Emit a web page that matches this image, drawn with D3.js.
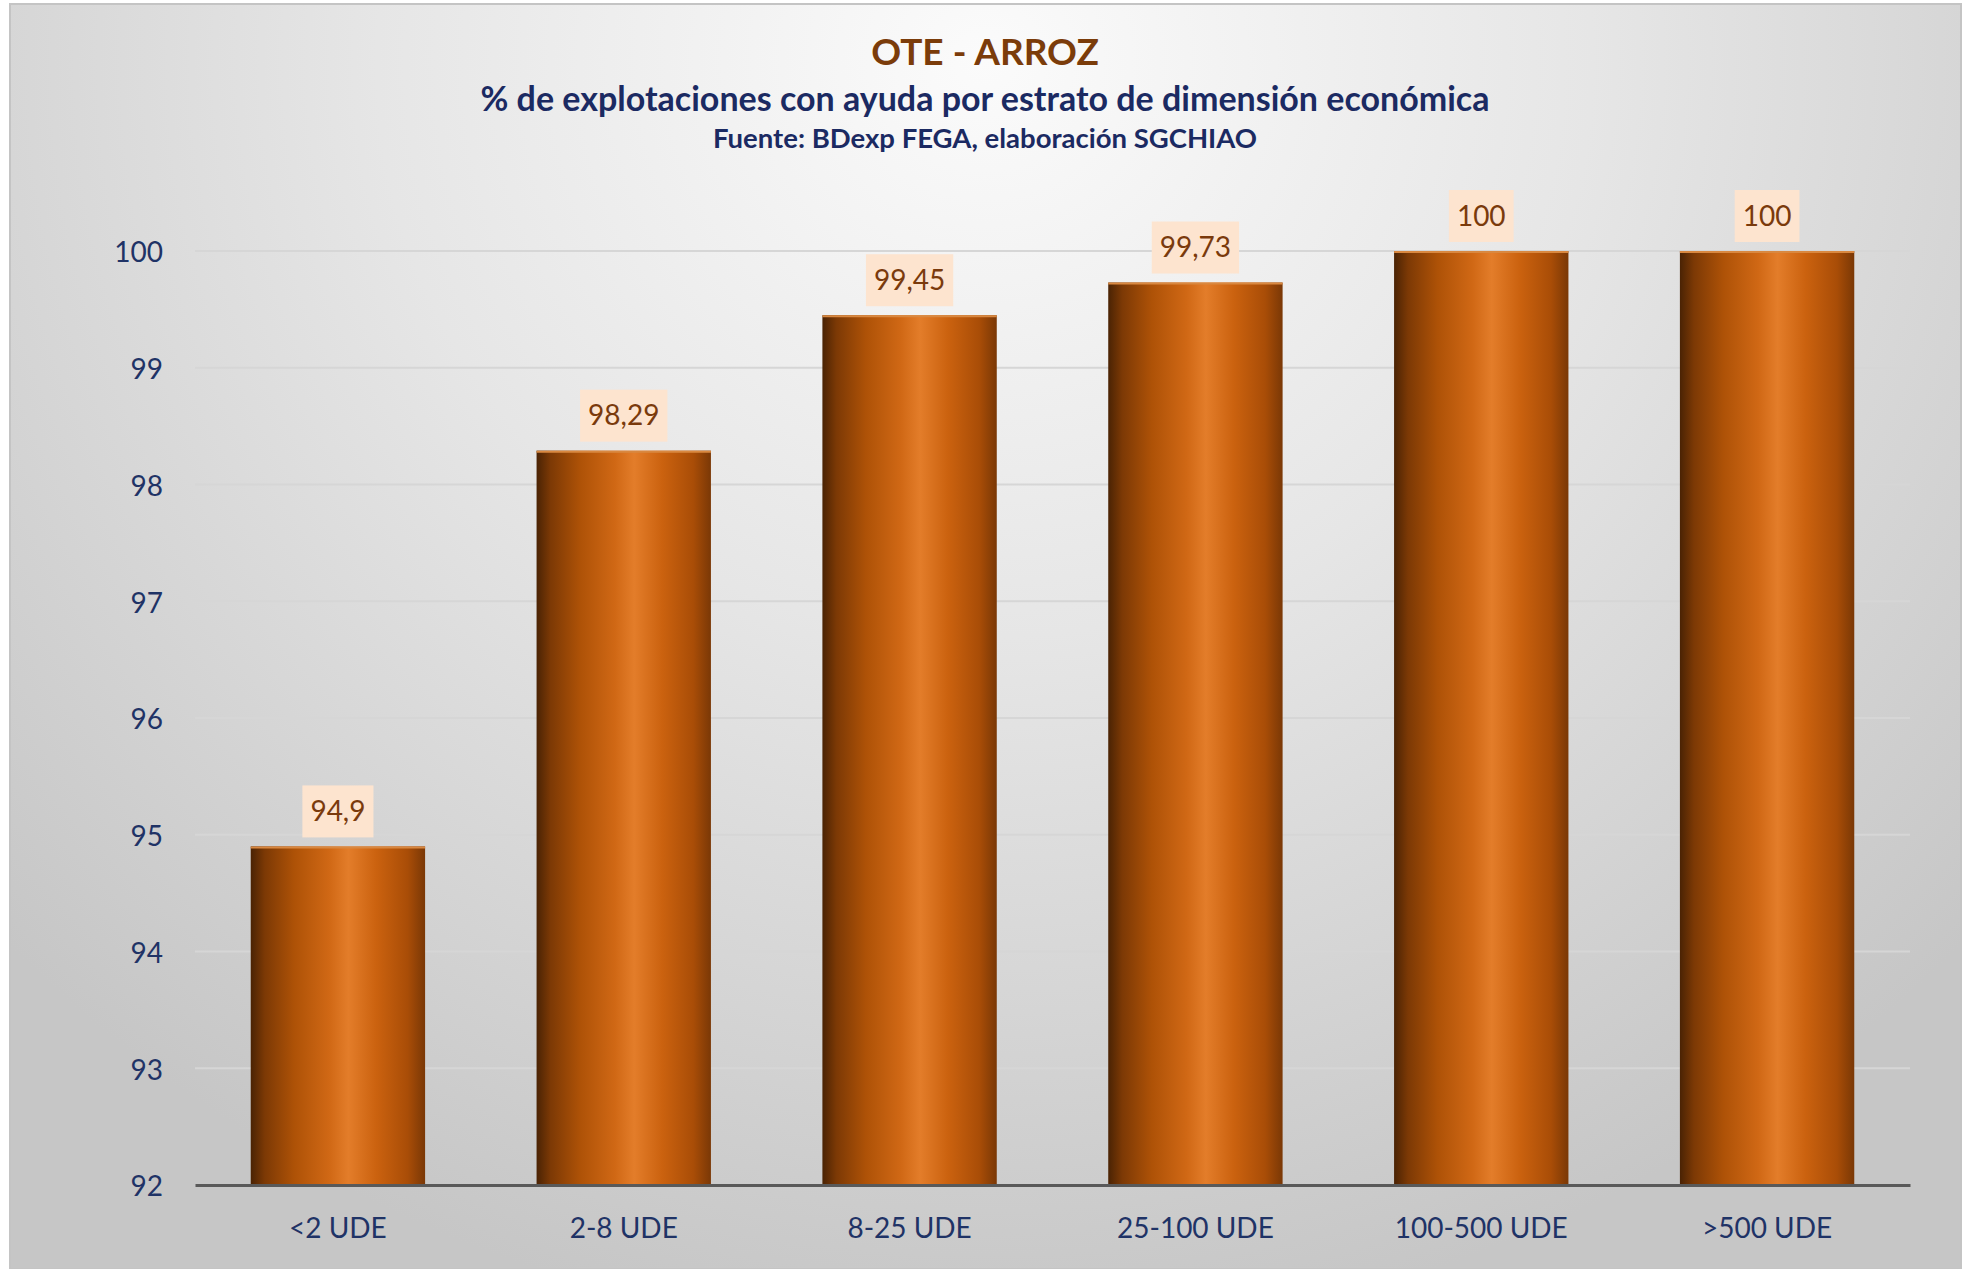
<!DOCTYPE html>
<html>
<head>
<meta charset="utf-8">
<script src="https://cdn.jsdelivr.net/npm/d3@7"></script>
<style>
  body { margin: 0; background: #fff; }
  text { font-family: Lato, "Open Sans", sans-serif; }
</style>
</head>
<body>
<div id="chart"></div>
<script>
var categories = ["<2 UDE", "2-8 UDE", "8-25 UDE", "25-100 UDE", "100-500 UDE", ">500 UDE"];
var values = [94.9, 98.29, 99.45, 99.73, 100, 100];
var valueLabels = ["94,9", "98,29", "99,45", "99,73", "100", "100"];
var yTicks = [92, 93, 94, 95, 96, 97, 98, 99, 100];

var width = 1971,
    height = 1269;
var margin = {left: 195, right: 61, top: 251, bottom: 84};

var svg = d3.select("#chart")
    .append("svg")
    .attr("width", width)
    .attr("height", height);

var defs = svg.append("defs");

// background, light at the top centre, grey at the edges
var bg = defs.append("radialGradient")
    .attr("id", "bg")
    .attr("gradientUnits", "userSpaceOnUse")
    .attr("cx", 985).attr("cy", 60).attr("r", 1350)
    .attr("gradientTransform", "translate(985,60) scale(1,0.95) translate(-985,-60)");
bg.append("stop").attr("offset", "0%").attr("stop-color", "#fbfbfb");
bg.append("stop").attr("offset", "45%").attr("stop-color", "#e6e6e6");
bg.append("stop").attr("offset", "100%").attr("stop-color", "#c6c6c6");

// cylinder look for the bars
var bar = defs.append("linearGradient")
    .attr("id", "bar")
    .attr("x1", "0%").attr("x2", "100%").attr("y1", "0%").attr("y2", "0%");
[["0%", "#4a2304"], ["8%", "#7c3905"], ["25%", "#ae5207"], ["45%", "#d06815"],
 ["56%", "#e37d2a"], ["72%", "#cb620f"], ["90%", "#a94d07"], ["100%", "#7a3806"]]
    .forEach(function (s) {
        bar.append("stop").attr("offset", s[0]).attr("stop-color", s[1]);
    });

svg.append("rect")
    .attr("x", 10).attr("y", 4)
    .attr("width", 1951).attr("height", 1265)
    .attr("fill", "url(#bg)")
    .attr("stroke", "#c4c4c4")
    .attr("stroke-width", 2);

var x = d3.scaleBand()
    .domain(categories)
    .range([margin.left, width - margin.right])
    .paddingInner(0.39)
    .paddingOuter(0.195);

var y = d3.scaleLinear()
    .domain([92, 100])
    .range([height - margin.bottom, margin.top]);

// gridlines
svg.append("g")
    .selectAll("line")
    .data(yTicks.slice(1))
    .enter()
    .append("line")
    .attr("x1", margin.left)
    .attr("x2", width - margin.right)
    .attr("y1", function (d) { return y(d); })
    .attr("y2", function (d) { return y(d); })
    .attr("stroke", "#d6d6d6")
    .attr("stroke-width", 2);

// y axis labels
var yAxis = svg.append("g")
    .attr("transform", "translate(" + margin.left + ",2)")
    .call(d3.axisLeft(y).tickValues(yTicks).tickSize(0).tickPadding(32));
yAxis.select(".domain").remove();
yAxis.selectAll("text")
    .attr("font-size", 28)
    .attr("fill", "#1f3366")
    .style("font-family", "Lato, sans-serif");

// bars
svg.append("g")
    .selectAll("rect")
    .data(values)
    .enter()
    .append("rect")
    .attr("x", function (d, i) { return x(categories[i]); })
    .attr("y", function (d) { return y(d); })
    .attr("width", x.bandwidth())
    .attr("height", function (d) { return y(92) - y(d); })
    .attr("fill", "url(#bar)");

// thin light rim on top of each bar
svg.append("g")
    .selectAll("line")
    .data(values)
    .enter()
    .append("line")
    .attr("x1", function (d, i) { return x(categories[i]); })
    .attr("x2", function (d, i) { return x(categories[i]) + x.bandwidth(); })
    .attr("y1", function (d) { return y(d) + 1; })
    .attr("y2", function (d) { return y(d) + 1; })
    .attr("stroke", "#d98840")
    .attr("stroke-width", 2);

// x axis
var xAxis = svg.append("g")
    .attr("transform", "translate(0," + y(92) + ")")
    .call(d3.axisBottom(x).tickSize(0).tickPadding(33));
xAxis.select(".domain")
    .attr("stroke", "#595959")
    .attr("stroke-width", 3);
xAxis.selectAll("text")
    .attr("font-size", 28)
    .attr("fill", "#1f3366")
    .style("font-family", "Lato, sans-serif");

// data labels with peach boxes
var labels = svg.append("g")
    .selectAll("g")
    .data(values)
    .enter()
    .append("g")
    .attr("transform", function (d, i) {
        return "translate(" + (x(categories[i]) + x.bandwidth() / 2) + "," + (y(d) - 35) + ")";
    });
labels.append("text")
    .attr("text-anchor", "middle")
    .attr("dy", "0.35em")
    .attr("font-size", 28)
    .attr("fill", "#7a3a0c")
    .text(function (d, i) { return valueLabels[i]; })
    .each(function () {
        var w = this.getComputedTextLength();
        d3.select(this.parentNode).insert("rect", "text")
            .attr("x", -w / 2 - 8)
            .attr("y", -26)
            .attr("width", w + 16)
            .attr("height", 52)
            .attr("fill", "#fde4cf");
    });

// titles
svg.append("text")
    .attr("x", 985).attr("y", 65)
    .attr("text-anchor", "middle")
    .attr("font-size", 37)
    .attr("font-weight", "bold")
    .attr("fill", "#7b3c0a")
    .text("OTE - ARROZ");
svg.append("text")
    .attr("x", 985).attr("y", 111)
    .attr("text-anchor", "middle")
    .attr("font-size", 34)
    .attr("font-weight", "bold")
    .attr("fill", "#1b2a62")
    .text("% de explotaciones con ayuda por estrato de dimensión económica");
svg.append("text")
    .attr("x", 985).attr("y", 148)
    .attr("text-anchor", "middle")
    .attr("font-size", 27.5)
    .attr("font-weight", "bold")
    .attr("fill", "#1b2a62")
    .text("Fuente: BDexp FEGA, elaboración SGCHIAO");
</script>
</body>
</html>
